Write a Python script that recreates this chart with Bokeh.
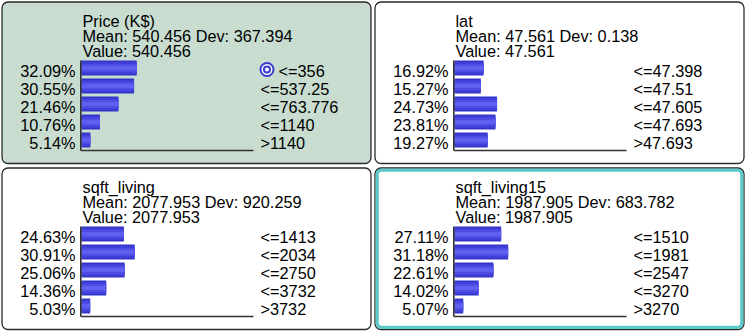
from bokeh.plotting import figure
from bokeh.layouts import gridplot
from bokeh.models import Range1d
from bokeh.core.properties import value
from bokeh.embed import file_html
from bokeh.resources import INLINE

# ---------------- data ----------------
node_names = ["Price (K$)", "lat", "sqft_living", "sqft_living15"]
node_means = [540.456, 47.561, 2077.953, 1987.905]
node_devs = [367.394, 0.138, 920.259, 683.782]
node_values = [540.456, 47.561, 2077.953, 1987.905]

price_pct = [32.09, 30.55, 21.46, 10.76, 5.14]
price_states = ["<=356", "<=537.25", "<=763.776", "<=1140", ">1140"]

lat_pct = [16.92, 15.27, 24.73, 23.81, 19.27]
lat_states = ["<=47.398", "<=47.51", "<=47.605", "<=47.693", ">47.693"]

sqft_living_pct = [24.63, 30.91, 25.06, 14.36, 5.03]
sqft_living_states = ["<=1413", "<=2034", "<=2750", "<=3732", ">3732"]

sqft_living15_pct = [27.11, 31.18, 22.61, 14.02, 5.07]
sqft_living15_states = ["<=1510", "<=1981", "<=2547", "<=3270", ">3270"]

node_pcts = [price_pct, lat_pct, sqft_living_pct, sqft_living15_pct]
node_states = [price_states, lat_states, sqft_living_states, sqft_living15_states]
evidence_state = [0, None, None, None]      # state marked with target icon
selected_node = [False, False, False, True]  # teal highlighted node

# ---------------- style / layout ----------------
W, H = 373, 166
X0_PX = 81.0          # pixel of 0 %
PX_PER_PCT = 1.72     # 100 % = 172 px
ROW0_PX = 67.5        # pixel centre of first state row
ROW_PX = 18.0
BAR_PX = 15.0
FONT = value("Liberation Sans")
FSIZE = value("16.3px")
GREEN_BG = "#c8ddd0"
BORDER = "#2a2a2a"
TEAL = "#5cc9c9"
BAR_LAYERS = [(15, "#3434ca"), (12, "#4040d9"), (8, "#4e4ee6"), (4, "#6060f0")]
ICON_BLUE = "#3a3ad0"
LABEL_DY = 3.0
HEADER_DY = [-47.0, -32.0, -17.0]


def px2x(px):
    return (px - X0_PX) / PX_PER_PCT


def px2y(py):
    return (py - ROW0_PX) / ROW_PX


def make_panel(i):
    p = figure(width=W, height=H, output_backend="svg", toolbar_location=None,
               x_range=Range1d(px2x(0), px2x(W)),
               y_range=Range1d(px2y(H), px2y(0)),
               x_axis_location=None, y_axis_location=None,
               min_border=0, background_fill_color="white",
               border_fill_color="white", outline_line_color=None)
    p.xgrid.visible = False
    p.ygrid.visible = False

    bg = GREEN_BG if evidence_state[i] is not None else "white"
    p.quad(left=px2x(1.5), right=px2x(370.5), top=px2y(1.5), bottom=px2y(163.0),
           border_radius=6, fill_color=bg, line_color=BORDER, line_width=1.3)
    if selected_node[i]:
        p.quad(left=px2x(3.7), right=px2x(368.3), top=px2y(3.7), bottom=px2y(160.8),
               border_radius=4, fill_color=None, line_color=TEAL, line_width=3.2)

    pcts = node_pcts[i]
    states = node_states[i]
    rows = list(range(len(pcts)))

    # bars (layered to give the shaded look)
    for h, c in BAR_LAYERS:
        p.hbar(y=rows, left=0, right=pcts, height=h / ROW_PX,
               fill_color=c, line_color=None)

    # axis lines
    last = len(pcts) - 1
    base_y = last + (BAR_PX / 2 + 3) / ROW_PX
    p.segment(x0=[px2x(80.3)], x1=[px2x(80.3)], y0=[-(BAR_PX / 2) / ROW_PX], y1=[base_y],
              line_color="#333333", line_width=1.6)
    p.segment(x0=[px2x(80.3)], x1=[100], y0=[base_y], y1=[base_y],
              line_color="#333333", line_width=1.6)

    # header texts
    header = [node_names[i],
              f"Mean: {node_means[i]:.3f} Dev: {node_devs[i]:.3f}",
              f"Value: {node_values[i]:.3f}"]
    p.text(x=[0, 0, 0], y=[0, 0, 0], text=header, x_offset=1,
           y_offset=HEADER_DY, text_align="left",
           text_baseline="alphabetic", text_font=FONT, text_font_size=FSIZE,
           text_color="black")

    # percentage labels
    p.text(x=[0] * len(pcts), y=rows, text=[f"{v:.2f}%" for v in pcts],
           x_offset=-6, y_offset=LABEL_DY, text_align="right", text_baseline="alphabetic",
           text_font=FONT, text_font_size=FSIZE, text_color="black")

    # state labels
    offs = [25 if evidence_state[i] == r else 7 for r in rows]
    p.text(x=[100] * len(pcts), y=rows, text=states, x_offset=offs, y_offset=LABEL_DY,
           text_align="left", text_baseline="alphabetic",
           text_font=FONT, text_font_size=FSIZE, text_color="black")

    # evidence target icon
    if evidence_state[i] is not None:
        ix = px2x(266.5)
        iy = evidence_state[i] + 1.5 / ROW_PX
        for s, c in [(15, ICON_BLUE), (11, "white"), (8, ICON_BLUE), (4, "white")]:
            p.scatter(x=[ix], y=[iy], size=s, marker="circle",
                      fill_color=c, line_color=None)
    return p


panels = [make_panel(i) for i in range(4)]
grid = gridplot([[panels[0], panels[1]], [panels[2], panels[3]]],
                toolbar_location=None)

open("out.html", "w").write(file_html(grid, INLINE))
